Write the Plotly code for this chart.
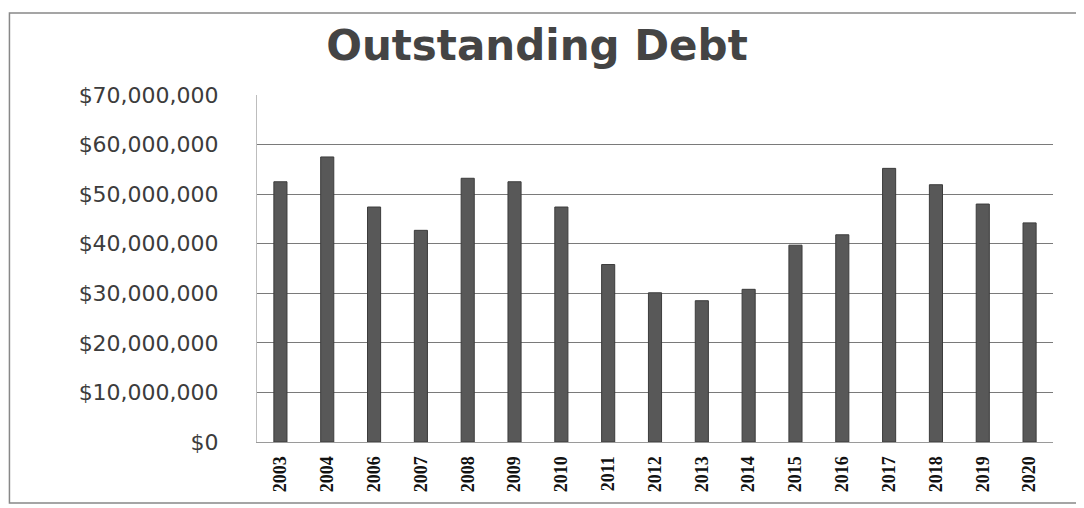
import plotly.graph_objects as go

years = ["2003", "2004", "2006", "2007", "2008", "2009", "2010", "2011", "2012",
         "2013", "2014", "2015", "2016", "2017", "2018", "2019", "2020"]
debt = [52.5e6, 57.5e6, 47.4e6, 42.7e6, 53.2e6, 52.5e6, 47.4e6, 35.8e6, 30.1e6,
        28.5e6, 30.8e6, 39.7e6, 41.8e6, 55.2e6, 51.9e6, 48.0e6, 44.2e6]
y_ticks = [0, 10e6, 20e6, 30e6, 40e6, 50e6, 60e6, 70e6]
y_tick_text = ["$" + format(int(v), ",") for v in y_ticks]

fig = go.Figure()
fig.add_trace(go.Bar(
    x=years, y=debt,
    marker=dict(color="#585858", line=dict(color="#3c3c3c", width=1)),
))

fig.update_layout(
    width=1076, height=500,
    margin=dict(l=249, r=31, t=87, b=66),
    paper_bgcolor="white", plot_bgcolor="white",
    bargap=0.72,
    showlegend=False,
    title=dict(text="<b>Outstanding Debt</b>", x=0.4916, xanchor="center",
               y=0.926, yanchor="middle",
               font=dict(family="DejaVu Sans", size=42, color="#444444")),
    xaxis=dict(type="category", tickangle=-90, showgrid=False,
               showline=True, linecolor="#9a9a9a", linewidth=1,
               ticks="", ticklabelstandoff=6,
               tickfont=dict(family="Liberation Serif", size=18,
                             color="#111111", weight="bold")),
    yaxis=dict(range=[0, 70e6], tickvals=y_ticks, ticktext=y_tick_text,
               showgrid=True, gridcolor="#7a7a7a", gridwidth=1,
               showline=True, linecolor="#bdbdbd", linewidth=1, mirror=False,
               zeroline=False, ticks="", ticklabelstandoff=33,
               tickfont=dict(family="DejaVu Sans", size=22, color="#3c3c3c")),
)

# outer chart frame
fig.add_shape(type="rect", xref="paper", yref="paper",
              x0=-0.311, x1=1.03, y0=-0.176, y1=1.236,
              line=dict(color="#888888", width=1.5))

fig.write_html("out.html")
